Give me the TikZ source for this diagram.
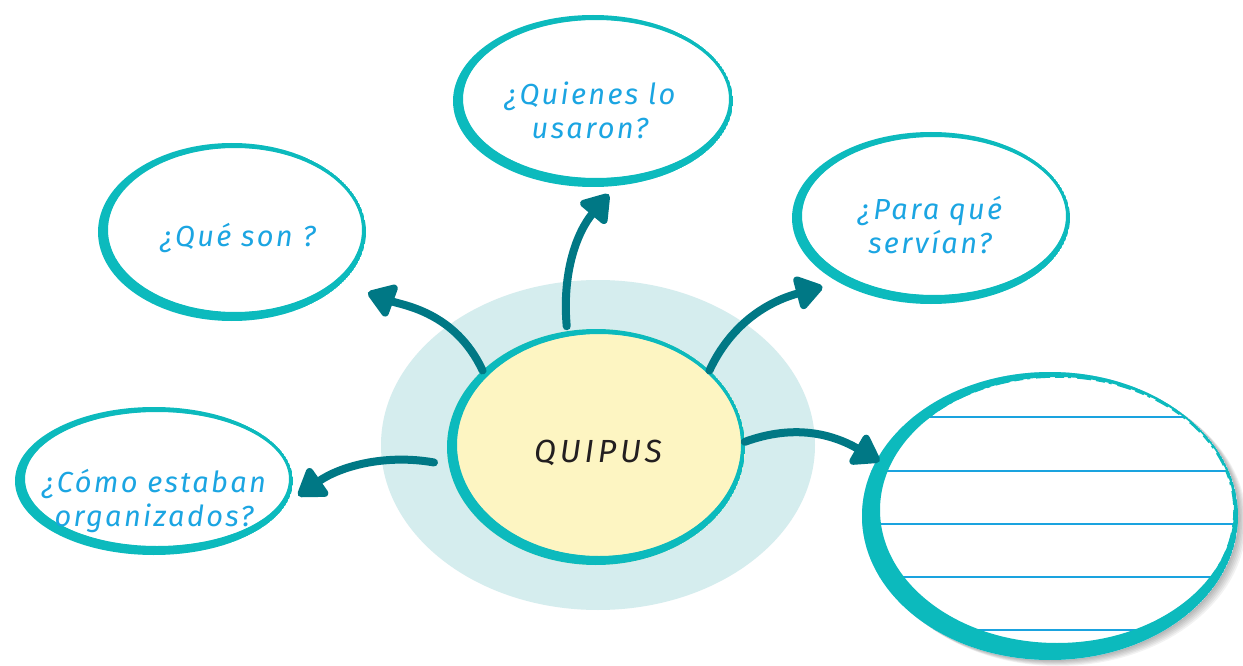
\documentclass[tikz,border=0pt]{standalone}
\usepackage{fontspec}
\newfontfamily\hand{Fira Sans}[LetterSpace=8]
\newfontfamily\handcaps{Fira Sans}[LetterSpace=12]
\usetikzlibrary{shapes.geometric,arrows.meta}
\definecolor{ringteal}{RGB}{12,186,189}
\definecolor{arrteal}{RGB}{0,120,133}
\definecolor{qblue}{RGB}{27,165,226}
\definecolor{lineblue}{RGB}{26,163,223}
\definecolor{paleblue}{RGB}{160,215,240}
\definecolor{quipusyellow}{RGB}{253,245,194}
\definecolor{bgblue}{RGB}{213,237,238}
\definecolor{ink}{RGB}{35,31,32}

\newcommand\brushring[3]{%
  \pgfmathsetmacro\brx{#2-7}\pgfmathsetmacro\bry{#3-7}%
  \begin{scope}
    \clip (#1.center) ellipse [x radius=#2, y radius=#3];
    \fill[ringteal, even odd rule] (#1.center) ellipse [x radius=#2, y radius=#3]
      ([shift={(3,-2)}]#1.center) ellipse [x radius=\brx, y radius=\bry];
  \end{scope}
  \pgfmathsetmacro\brx{#2-6}\pgfmathsetmacro\bry{#3-6}%
  \draw[ringteal, line width=1.3pt, dash pattern=on 7pt off 3pt on 2pt off 5pt on 12pt off 4pt]
    ([shift={(3,-2)}]#1.center) ellipse [x radius=\brx, y radius=\bry];
}

\tikzset{
  ringnode/.style={ellipse, inner sep=0pt, outer sep=0pt, fill=white},
  qtext/.style={text=qblue, align=center, font=\hand\itshape\fontsize{29}{34}\selectfont},
  arr/.style={draw=arrteal, line width=8pt, line cap=round,
    -{Triangle[length=30pt,width=38pt,round]}},
}

\begin{document}
\begin{tikzpicture}[x=1pt,y=-1pt]
\useasboundingbox (0,0) rectangle (1243,666);
\fill[white] (0,0) rectangle (1243,666);

% background blob
\fill[bgblue] (598,445) ellipse [x radius=217, y radius=165];

% nodes
\node[ringnode, fill=quipusyellow, minimum width=298pt, minimum height=236pt] (quipus) at (596,447) {};
\node[ringnode, minimum width=280pt, minimum height=172pt] (quien) at (593,101) {};
\node[ringnode, minimum width=268pt, minimum height=178pt] (que) at (232,232) {};
\node[ringnode, minimum width=278pt, minimum height=172pt] (para) at (931,218) {};
\node[ringnode, minimum width=278pt, minimum height=148pt] (como) at (154,481) {};

% lined ellipse with soft shadow
\foreach \i in {1,...,6}
  \fill[black, opacity=0.05] (1050+\i*1.4, 516+\i*1.0) ellipse [x radius=188, y radius=144];
\node[ringnode, minimum width=376pt, minimum height=288pt] (lined) at (1050,516) {};
\begin{scope}
  \clip (lined.center) ellipse [x radius=188, y radius=144];
  \foreach \yy in {417,471,524,577,630}
    \draw[lineblue, line width=1.3pt] (860,\yy) -- (1240,\yy);
\end{scope}
\draw[paleblue, line width=1pt] (lined.center) ellipse [x radius=187.5, y radius=143.5];

% brush rings
\brushring{quipus}{149}{118}
\brushring{quien}{140}{86}
\brushring{que}{134}{89}
\brushring{para}{139}{86}
\brushring{como}{139}{74}
\pgfmathsetmacro\brx{177}\pgfmathsetmacro\bry{133}%
\begin{scope}
  \clip (lined.center) ellipse [x radius=188, y radius=144];
  \fill[ringteal, even odd rule] (lined.center) ellipse [x radius=188, y radius=144]
    ([shift={(7,-6)}]lined.center) ellipse [x radius=\brx, y radius=\bry];
\end{scope}
\draw[ringteal, line width=1.5pt, dash pattern=on 9pt off 4pt on 3pt off 6pt on 14pt off 5pt]
  ([shift={(6,-5)}]lined.center) ellipse [x radius=178, y radius=134];

% texts
\node[qtext] (tquien) at (590,110) {¿Quienes lo\\usaron?};
\node[qtext] (tque) at (238,238) {¿Qué son ?};
\node[qtext] (tpara) at (930,225) {¿Para qué\\servían?};
\node[qtext] (tcomo) at (154,501) {¿Cómo estaban\\organizados?};
\node[text=ink, font=\handcaps\itshape\fontsize{32}{36}\selectfont] (tquipus) at (598,453) {QUIPUS};

% arrows
\draw[arr, shorten >=28pt] (quipus.146) to[out=115, in=-20] (que.-25);
\draw[arr, shorten <=5pt, shorten >=11pt] (quipus.104) to[out=95, in=-130] (quien.-75);
\draw[arr, shorten >=17pt] (quipus.34) to[out=65, in=195] (para.215);
\draw[arr, shorten >=-3pt] (quipus.2) to[out=20, in=150] (lined.162);
\draw[arr, shorten <=15pt, shorten >=15pt] (quipus.187) to[out=170, in=35] (como.-10);
\end{tikzpicture}
\end{document}
